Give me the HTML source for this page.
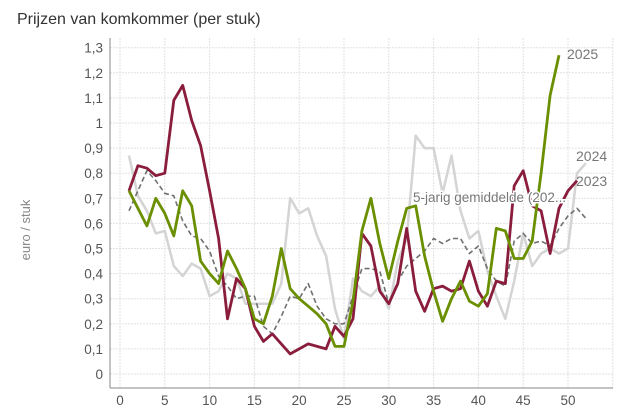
<!DOCTYPE html>
<html><head><meta charset="utf-8"><style>
html,body{margin:0;padding:0;background:#fff;}
svg{display:block;font-family:"Liberation Sans",sans-serif;}
</style></head><body>
<svg id="c" width="625" height="417" viewBox="0 0 625 417" xmlns="http://www.w3.org/2000/svg">
<text x="17" y="24" font-size="16" fill="#333">Prijzen van komkommer (per stuk)</text>
<text transform="translate(30,230) rotate(-90)" text-anchor="middle" font-size="13" fill="#888">euro / stuk</text>
<g id="grid"></g>
<g id="series"></g>
<text x="567" y="59" font-size="14" fill="#777">2025</text>
<text x="576" y="161" font-size="14" fill="#777">2024</text>
<text x="576" y="186" font-size="14" fill="#777">2023</text>
<text x="413" y="202" font-size="13.5" fill="#777" stroke="#fff" stroke-width="3" paint-order="stroke">5-jarig gemiddelde (202...</text>
</svg>
<script>
const NS="http://www.w3.org/2000/svg";
const X=w=>120+8.96*w, Y=v=>374-251*v;
const g=document.getElementById('grid'), s=document.getElementById('series');
function el(p,t,a,txt){const e=document.createElementNS(NS,t);for(const k in a)e.setAttribute(k,a[k]);if(txt!==undefined)e.textContent=txt;p.appendChild(e);return e;}
for(let i=0;i<=13;i++){const y=Y(i/10);el(g,'line',{x1:110,x2:613,y1:y,y2:y,stroke:'#e2e2e2','stroke-dasharray':'2,1'});
el(g,'text',{x:103,y:y+5,'text-anchor':'end','font-size':'13.5',fill:'#555'},i==0?'0':i==10?'1':(i/10).toFixed(1).replace('.',','));}
for(let w=0;w<=55;w+=5){const x=X(w);el(g,'line',{x1:x,x2:x,y1:38,y2:388,stroke:'#e2e2e2','stroke-dasharray':'2,1'});
if(w<=50)el(g,'text',{x:x,y:405,'text-anchor':'middle','font-size':'13.5',fill:'#555'},w);}
el(g,'line',{x1:110,x2:110,y1:38,y2:388,stroke:'#888'});
el(g,'line',{x1:110,x2:613,y1:388,y2:388,stroke:'#888'});
const d24=[.87,.71,.65,.56,.57,.43,.39,.44,.42,.31,.33,.40,.38,.28,.28,.28,.28,.36,.70,.64,.66,.55,.47,.26,.14,.38,.33,.31,.35,.26,.45,.54,.95,.90,.90,.72,.87,.65,.54,.57,.41,.31,.22,.37,.56,.43,.48,.50,.48,.50,.80,.84];
const avg=[.65,.73,.81,.77,.72,.71,.61,.55,.54,.49,.39,.35,.30,.31,.31,.19,.16,.23,.31,.30,.36,.27,.22,.20,.20,.31,.42,.42,.41,.28,.37,.43,.46,.49,.54,.52,.54,.54,.48,.51,.42,.37,.35,.53,.56,.52,.53,.51,.58,.63,.66,.62];
const d23=[.73,.83,.82,.79,.80,1.09,1.15,1.01,.91,.73,.54,.22,.38,.34,.19,.13,.16,.12,.08,.10,.12,.11,.10,.19,.15,.22,.56,.51,.33,.28,.36,.58,.33,.25,.34,.35,.33,.34,.45,.33,.27,.37,.36,.75,.81,.67,.65,.48,.66,.73,.77];
const d25=[.73,.66,.59,.70,.64,.55,.73,.67,.45,.40,.36,.49,.42,.34,.22,.20,.31,.50,.34,.30,.27,.24,.20,.11,.11,.29,.57,.70,.52,.38,.53,.66,.67,.47,.33,.21,.30,.37,.29,.27,.32,.58,.57,.46,.46,.53,.80,1.11,1.27];
function line(d,c,w,dash){el(s,'polyline',{points:d.map((v,i)=>X(i+1).toFixed(1)+','+Y(v).toFixed(1)).join(' '),fill:'none',stroke:c,'stroke-width':w,'stroke-linejoin':'round','stroke-dasharray':dash||'none'});}
line(d24,'#d4d4d4',2.5);
line(avg,'#707070',1.6,'5,3');
line(d23,'#8a1c3c',2.8);
line(d25,'#6a8f00',2.8);
</script>
</body></html>
